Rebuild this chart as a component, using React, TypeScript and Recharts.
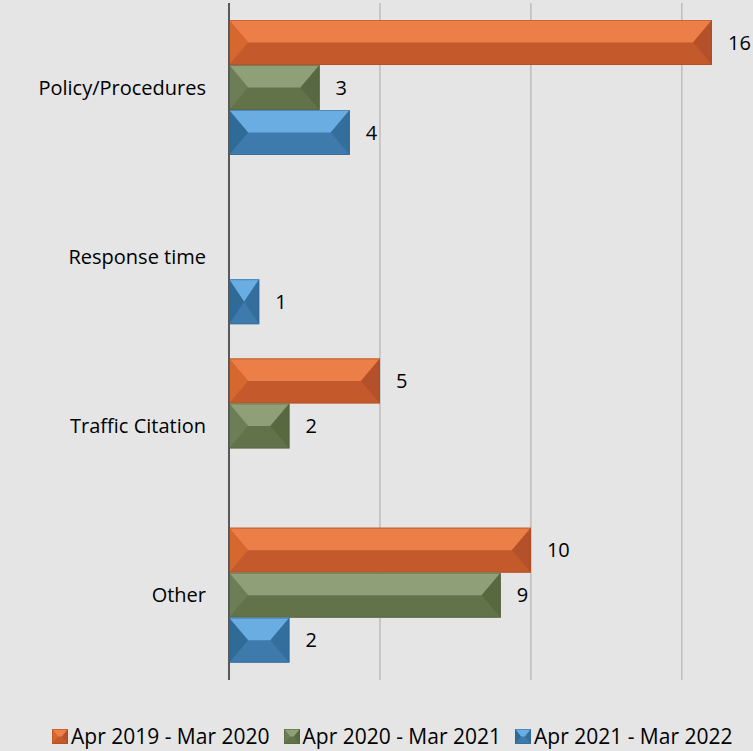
import { BarChart, Bar, XAxis, YAxis, CartesianGrid, Legend, LabelList } from "recharts";

const categories = ["Policy/Procedures", "Response time", "Traffic Citation", "Other"];
const apr2019 = [16, null, 5, 10];
const apr2020 = [3, null, 2, 9];
const apr2021 = [4, 1, null, 2];
const seriesNames = ["Apr 2019 - Mar 2020", "Apr 2020 - Mar 2021", "Apr 2021 - Mar 2022"];
const xTicks = [0, 5, 10, 15];

const data = categories.map((name, i) => ({
  name,
  s1: apr2019[i],
  s2: apr2020[i],
  s3: apr2021[i],
}));

type Pal = { top: string; left: string; right: string; bottom: string; edge: string };

const palettes: Pal[] = [
  { top: "#EB7F47", left: "#D5672F", right: "#B5512A", bottom: "#C45A2B", edge: "#A9481E" },
  { top: "#8F9F78", left: "#6D7D56", right: "#58683F", bottom: "#627249", edge: "#52603C" },
  { top: "#6AADE3", left: "#306A97", right: "#336E9D", bottom: "#3E7AAC", edge: "#2F6591" },
];

const font = "'Open Sans', sans-serif";

const BevelBar = (props: any) => {
  const { x, y, width, height, pal, bevel = 19 } = props;
  if (!width || width <= 0 || !height) return null;
  const bx = Math.min(bevel, width / 2);
  const ym = y + height / 2;
  const x2 = x + width;
  const y2 = y + height;
  return (
    <g>
      <rect x={x} y={y} width={width} height={height} fill={pal.bottom} />
      <polygon points={`${x},${y} ${x2},${y} ${x2 - bx},${ym} ${x + bx},${ym}`} fill={pal.top} />
      <polygon points={`${x},${y} ${x + bx},${ym} ${x},${y2}`} fill={pal.left} />
      <polygon points={`${x2},${y} ${x2},${y2} ${x2 - bx},${ym}`} fill={pal.right} />
      <rect
        x={x + 0.5}
        y={y + 0.5}
        width={width - 1}
        height={height - 1}
        fill="none"
        stroke={pal.edge}
        strokeOpacity={0.5}
      />
    </g>
  );
};

const renderLegend = () => (
  <div
    style={{
      display: "flex",
      alignItems: "center",
      paddingLeft: 52,
      height: 30,
      lineHeight: "30px",
      fontFamily: font,
      fontSize: 21,
      color: "#000",
      whiteSpace: "nowrap",
    }}
  >
    {seriesNames.map((n, i) => (
      <span key={n} style={{ display: "inline-flex", alignItems: "center", marginRight: 14 }}>
        <svg width={16} height={15} style={{ marginRight: 3 }}>
          <BevelBar x={0} y={0} width={16} height={15} pal={palettes[i]} bevel={6} />
        </svg>
        <span>{n}</span>
      </span>
    ))}
  </div>
);

const fmt = (v: any) => (v === null || v === undefined ? "" : v);

export default function App() {
  return (
    <div
      style={{
        position: "absolute",
        left: 0,
        top: 0,
        width: 753,
        height: 751,
        overflow: "hidden",
        background: "#e5e5e5",
        fontFamily: font,
      }}
    >
      <BarChart
        width={753}
        height={751}
        data={data}
        layout="vertical"
        margin={{ top: 3, right: 41, left: 0, bottom: 40 }}
        barSize={45}
        barGap={0}
      >
        <CartesianGrid horizontal={false} stroke="#bdbdbd" strokeWidth={1.5} syncWithTicks />
        <XAxis
          type="number"
          domain={[0, 16]}
          ticks={xTicks}
          axisLine={false}
          tickLine={false}
          tick={{ fill: "none", fontSize: 1 }}
          height={1}
        />
        <YAxis
          type="category"
          dataKey="name"
          width={229}
          axisLine={{ stroke: "#595959", strokeWidth: 2 }}
          tickLine={false}
          tickSize={0}
          tickMargin={23}
          tick={{ fill: "#000", fontSize: 20, fontFamily: font }}
        />
        <Legend verticalAlign="bottom" content={renderLegend} wrapperStyle={{ left: 0, bottom: 0, width: 753 }} />
        {["s1", "s2", "s3"].map((k, i) => (
          <Bar
            key={k}
            dataKey={k}
            name={seriesNames[i]}
            fill={palettes[i].bottom}
            isAnimationActive={false}
            shape={(p: any) => <BevelBar {...p} pal={palettes[i]} />}
          >
            <LabelList
              dataKey={k}
              position="right"
              offset={16}
              formatter={fmt}
              style={{ fill: "#000", fontSize: 20, fontFamily: font }}
            />
          </Bar>
        ))}
      </BarChart>
    </div>
  );
}
